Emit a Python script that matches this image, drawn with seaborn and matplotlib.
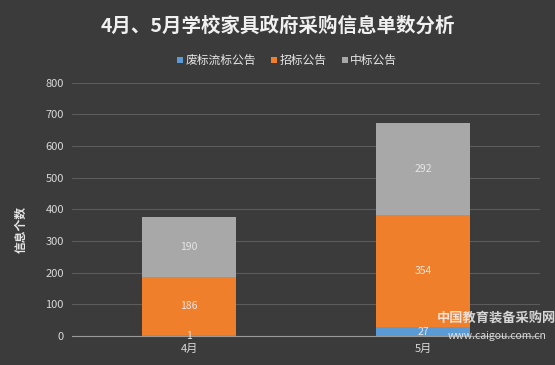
import numpy as np
import pandas as pd
import seaborn as sns
import matplotlib.pyplot as plt

months = ['4月', '5月']
feibiao = [1, 27]      # 废标流标公告
zhaobiao = [186, 354]  # 招标公告
zhongbiao = [190, 292] # 中标公告
series_names = ['废标流标公告', '招标公告', '中标公告']
yticks = [0, 100, 200, 300, 400, 500, 600, 700, 800]

sns.set_style('dark')
plt.rcParams['font.family'] = ['Noto Sans CJK SC', 'DejaVu Sans']

bg = '#3b3b3b'
fig = plt.figure(figsize=(5.55, 3.65), dpi=100, facecolor=bg)
ax = fig.add_axes([0.13, 0.08, 0.843, 0.693])
ax.set_facecolor(bg)

colors = ['#5b9bd5', '#f07f2c', '#a8a8a8']
df = pd.DataFrame({'month': months, 'a': feibiao, 'b': zhaobiao, 'c': zhongbiao})
bottoms = [np.zeros(2), np.array(feibiao), np.array(feibiao) + np.array(zhaobiao)]
for col, name, c, btm in zip(['a', 'b', 'c'], series_names, colors, bottoms):
    sns.barplot(data=df, x='month', y=col, bottom=btm, color=c, width=0.4,
                label=name, ax=ax, saturation=1, errorbar=None,
                edgecolor='none', linewidth=0)

# value labels
for cont in ax.containers:
    ax.bar_label(cont, label_type='center', color='#e6e6e6', fontsize=7.5)

ax.set_ylim(0, 800)
ax.set_yticks(yticks)
ax.set_xlim(-0.5, 1.5)
ax.grid(axis='y', color='#5c5c5c', linewidth=0.8)
ax.set_axisbelow(True)
for s in ['top', 'right', 'left']:
    ax.spines[s].set_visible(False)
ax.spines['bottom'].set_color('#9a9a9a')
ax.tick_params(axis='both', colors='#d9d9d9', labelsize=8, length=0, pad=6)
ax.set_xlabel('')
ax.set_ylabel('信息个数', color='#e6e6e6', fontsize=8.5, fontweight='bold')
ax.yaxis.set_label_coords(-0.095, 0.42)

fig.suptitle('4月、5月学校家具政府采购信息单数分析', color='#f0f0f0', fontsize=14,
             fontweight='bold', y=0.955)

leg = ax.legend(loc='lower center', bbox_to_anchor=(0.46, 1.02), ncol=3, frameon=False,
                fontsize=8.5, handlelength=0.5, handleheight=0.5, handletextpad=0.2,
                columnspacing=1.3)
for t in leg.get_texts():
    t.set_color('#e6e6e6')

# watermark (kept clear of the value label)
fig.text(0.895, 0.115, '中国教育装备采购网', color='#f2f2f2', fontsize=9.5, fontweight='bold',
         alpha=0.85, ha='center')
fig.text(0.895, 0.072, 'www.caigou.com.cn', color='#f2f2f2', fontsize=7.5, style='italic',
         alpha=0.85, ha='center')

fig.savefig('out.png', dpi=100, facecolor=bg)
